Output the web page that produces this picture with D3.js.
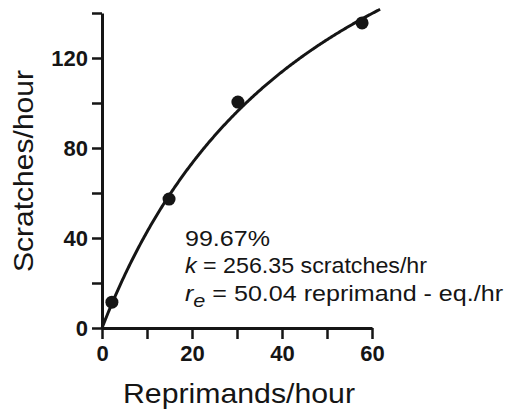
<!DOCTYPE html>
<html><head><meta charset="utf-8">
<script src="https://cdn.jsdelivr.net/npm/d3@7"></script>
<style>body{margin:0;background:#fff}svg{display:block}</style>
</head><body>
<svg id="c" width="513" height="409"></svg>
<script>
const reprimands = [2.2, 14.9, 30.2, 57.8];
const scratches = [11.5, 57.3, 100.4, 135.6];
const kFit = 256.35, reFit = 50.04;
const xTicks = [0, 10, 20, 30, 40, 50, 60];
const xLabels = [0, 20, 40, 60];
const yTicks = [0, 20, 40, 60, 80, 100, 120, 140];
const yLabels = [0, 40, 80, 120];
const fitLines = ["99.67%", "k = 256.35 scratches/hr", "re = 50.04 reprimand - eq./hr"];

const svg = d3.select("#c");
const ink = "#151515";
const tf = "Liberation Sans, Arial, sans-serif";
const x = d3.scaleLinear().domain([0, 60]).range([102, 372]);
const y = d3.scaleLinear().domain([0, 140]).range([328, 13]);

const ax = svg.append("g").attr("transform", `translate(0,${y(0)})`)
  .call(d3.axisBottom(x).tickValues(xTicks).tickSize(11).tickSizeOuter(0)
    .tickFormat(d => xLabels.includes(d) ? d : ""));
const ay = svg.append("g").attr("transform", `translate(${x(0)},0)`)
  .call(d3.axisLeft(y).tickValues(yTicks).tickSize(10).tickSizeOuter(0)
    .tickFormat(d => yLabels.includes(d) ? d : ""));
[ax, ay].forEach(g => {
  g.selectAll("path.domain").attr("stroke", ink).attr("stroke-width", 3);
  g.selectAll(".tick line").attr("stroke", ink).attr("stroke-width", 2.5);
  g.selectAll(".tick text").attr("fill", ink)
    .style("font-family", tf)
    .style("font-weight", "bold").style("font-size", "22px");
});
ax.selectAll(".tick text").attr("dy", "0.71em").attr("y", 17);
ay.selectAll(".tick text").attr("x", -14);

// fitted hyperbola
const rs = d3.range(0, 61.81, 0.2);
const line = d3.line().x(d => x(d)).y(d => y(kFit * d / (d + reFit)));
svg.append("path").datum(rs).attr("d", line)
  .attr("fill", "none").attr("stroke", ink).attr("stroke-width", 3);

svg.append("g").selectAll("circle").data(reprimands).join("circle")
  .attr("cx", d => x(d)).attr("cy", (d, i) => y(scratches[i]))
  .attr("r", 6.5).attr("fill", ink);

// axis titles
svg.append("text").attr("x", 123).attr("y", 403)
  .attr("textLength", 232).attr("lengthAdjust", "spacingAndGlyphs")
  .style("font-family", tf).style("font-size", "28px")
  .attr("fill", ink).text("Reprimands/hour");
svg.append("text").attr("transform", "translate(33,272) rotate(-90)")
  .attr("textLength", 202).attr("lengthAdjust", "spacingAndGlyphs")
  .style("font-family", tf).style("font-size", "28px")
  .attr("fill", ink).text("Scratches/hour");

// fit annotation
const t1 = svg.append("text").attr("x", 185).attr("y", 246).attr("fill", ink)
  .style("font-family", tf).style("font-size", "22px")
  .attr("textLength", 85).attr("lengthAdjust", "spacingAndGlyphs").text(fitLines[0]);
const t2 = svg.append("text").attr("x", 185).attr("y", 273).attr("fill", ink)
  .style("font-family", tf).style("font-size", "22px")
  .attr("textLength", 242).attr("lengthAdjust", "spacingAndGlyphs");
t2.append("tspan").style("font-style", "italic").text("k");
t2.append("tspan").text(" = 256.35 scratches/hr");
const t3 = svg.append("text").attr("x", 185).attr("y", 301).attr("fill", ink)
  .style("font-family", tf).style("font-size", "22px")
  .attr("textLength", 318).attr("lengthAdjust", "spacingAndGlyphs");
t3.append("tspan").style("font-style", "italic").text("r");
t3.append("tspan").style("font-style", "italic").style("font-size", "19px").attr("dy", 6).text("e");
t3.append("tspan").attr("dy", -6).text(" = 50.04 reprimand - eq./hr");
</script>
</body></html>
